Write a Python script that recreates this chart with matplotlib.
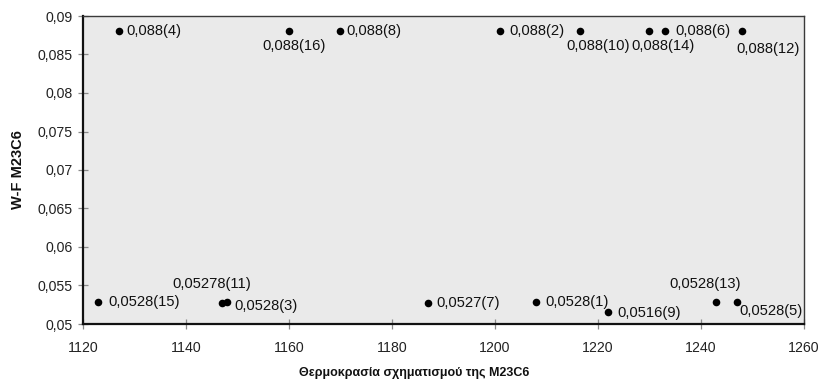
import matplotlib
matplotlib.use("Agg")
import matplotlib.pyplot as plt
from matplotlib.ticker import FixedLocator, FuncFormatter

plt.rcParams["font.family"] = ["Liberation Sans", "DejaVu Sans"]

# Sample numbers and their measured values
sample_ids = [1, 2, 3, 4, 5, 6, 7, 8, 9, 10, 11, 12, 13, 14, 15, 16]
formation_temp = [1208, 1201, 1148, 1127, 1247, 1233, 1187, 1170,
                  1222, 1216.5, 1147, 1248, 1243, 1230, 1123, 1160]
wf_m23c6 = [0.0528, 0.088, 0.0528, 0.088, 0.0528, 0.088, 0.0527, 0.088,
            0.0516, 0.088, 0.05278, 0.088, 0.0528, 0.088, 0.0528, 0.088]

# Label placement per sample: (dx, dy) in pixels, horizontal alignment
label_pos = {
    1: (9, 0, "left"), 2: (9, 0, "left"), 3: (7, -4, "left"),
    4: (7, 0, "left"), 5: (2, -9, "left"), 6: (10, 0, "left"),
    7: (8, 0, "left"), 8: (6, 0, "left"), 9: (9, -1, "left"),
    10: (18, -15, "center"), 11: (-10, 19, "center"), 12: (26, -18, "center"),
    13: (-11, 18, "center"), 14: (14, -15, "center"), 15: (10, 0, "left"),
    16: (5, -15, "center"),
}

x_ticks = [1120, 1140, 1160, 1180, 1200, 1220, 1240, 1260]
y_ticks = [0.05, 0.055, 0.06, 0.065, 0.07, 0.075, 0.08, 0.085, 0.09]

x_title = "Θερμοκρασία σχηματισμού της M23C6"
y_title = "W-F M23C6"


def comma(v):
    return f"{v:g}".replace(".", ",")


fig = plt.figure(figsize=(8.22, 3.86), dpi=100)
ax = fig.add_axes([83 / 822, 1 - 324 / 386, (804 - 83) / 822, (324 - 16) / 386])
ax.set_facecolor("#eaeaea")

ax.scatter(formation_temp, wf_m23c6, s=30, c="black", marker="o",
           linewidths=0, zorder=3)

for sid, x, y in zip(sample_ids, formation_temp, wf_m23c6):
    dx, dy, ha = label_pos[sid]
    ax.annotate(f"{comma(y)}({sid})", (x, y), xytext=(dx, dy),
                textcoords="offset pixels", ha=ha, va="center",
                fontsize=10.6, color="#111111", zorder=4)

ax.set_xlim(1120, 1260)
ax.set_ylim(0.05, 0.09)
ax.xaxis.set_major_locator(FixedLocator(x_ticks))
ax.yaxis.set_major_locator(FixedLocator(y_ticks))
ax.xaxis.set_major_formatter(FuncFormatter(lambda v, p: f"{v:.0f}"))
ax.yaxis.set_major_formatter(FuncFormatter(lambda v, p: comma(round(v, 4))))
ax.tick_params(axis="both", direction="inout", length=7, width=0.9,
               color="#8a8a8a", labelsize=10.2, labelcolor="#222222")
ax.tick_params(axis="x", pad=9)
ax.tick_params(axis="y", pad=4)

for side in ("left", "bottom"):
    ax.spines[side].set_linewidth(1.6)
    ax.spines[side].set_color("#111111")
for side in ("top", "right"):
    ax.spines[side].set_linewidth(1.0)
    ax.spines[side].set_color("#3a3a3a")

fig.text(414 / 822, 1 - 373 / 386, x_title, ha="center", va="center",
         fontsize=9, fontweight="bold", color="#111111")
fig.text(18 / 822, 1 - 170 / 386, y_title, ha="center", va="center",
         rotation=90, fontsize=10.5, fontweight="bold", color="#111111")

fig.savefig("out.png", dpi=100, facecolor="white")
